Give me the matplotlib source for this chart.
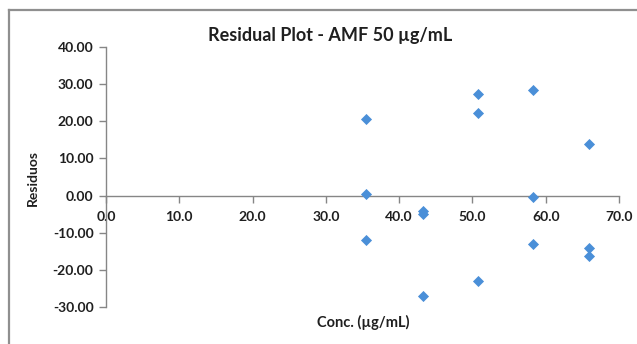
import matplotlib
matplotlib.use("Agg")
import matplotlib.pyplot as plt
from matplotlib.lines import Line2D

# concentration levels (µg/mL) and residuals, three replicates each
conc = [35.5, 35.5, 35.5,
        43.2, 43.2, 43.2,
        50.7, 50.7, 50.7,
        58.3, 58.3, 58.3,
        65.9, 65.9, 65.9]
residuals = [20.5, 0.4, -11.9,
             -4.2, -4.9, -27.1,
             27.3, 22.2, -22.9,
             28.3, -0.4, -13.0,
             14.0, -14.2, -16.4]

x_ticks = [0, 10, 20, 30, 40, 50, 60, 70]
y_ticks = [-30, -20, -10, 0, 10, 20, 30, 40]

title = "Residual Plot - AMF 50 µg/mL"
x_label = "Conc. (µg/mL)"
y_label = "Residuos"

plt.rcParams["font.family"] = ["Lato", "DejaVu Sans"]
axis_gray = "#868686"
text_col = "#1f1f1f"

W, H = 637, 344
fig = plt.figure(figsize=(W / 100, H / 100), dpi=100)

# outer chart frame (left and top edges visible)
fig.add_artist(Line2D([9 / W, 9 / W], [0, 1 - 10 / H], color="#8f8f8f", lw=1.6))
fig.add_artist(Line2D([9 / W, 1], [1 - 10 / H, 1 - 10 / H], color="#8f8f8f", lw=1.6))

ax = fig.add_axes([106 / W, 1 - 307 / H, (619 - 106) / W, (307 - 47) / H])

ax.scatter(conc, residuals, marker="D", s=32, color="#4A8FD8", zorder=3, linewidths=0)

ax.set_xlim(0, 70)
ax.set_ylim(-30, 40)
ax.set_xticks(x_ticks)
ax.set_yticks(y_ticks)
ax.set_xticklabels([f"{v:.1f}" for v in x_ticks])
ax.set_yticklabels([f"{v:.2f}" for v in y_ticks])

for side in ["top", "right"]:
    ax.spines[side].set_visible(False)
ax.spines["bottom"].set_position(("data", 0))
for side in ["left", "bottom"]:
    ax.spines[side].set_color(axis_gray)
    ax.spines[side].set_linewidth(1.0)

ax.tick_params(axis="both", colors=axis_gray, length=5, width=1.0, direction="out",
               labelcolor=text_col, labelsize=10)
ax.tick_params(axis="x", pad=6)
ax.tick_params(axis="y", pad=4)
for lbl in ax.get_xticklabels() + ax.get_yticklabels():
    lbl.set_fontweight("bold")

fig.text(330 / W, 1 - 36 / H, title, ha="center", va="center",
         fontsize=13, fontweight="bold", color=text_col)
fig.text(363 / W, 1 - 322 / H, x_label, ha="center", va="center",
         fontsize=10.5, fontweight="bold", color=text_col)
fig.text(33 / W, 1 - 178 / H, y_label, ha="center", va="center", rotation=90,
         fontsize=10, fontweight="bold", color=text_col)

fig.savefig("out.png", dpi=100)
